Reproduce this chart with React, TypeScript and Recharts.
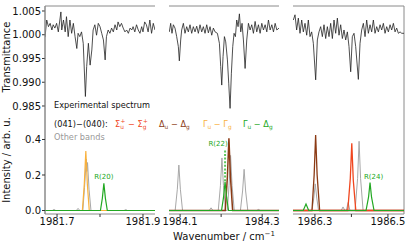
import { LineChart, Line, XAxis, YAxis, ReferenceLine, ReferenceDot } from 'recharts';

const W = 415;
const H = 249;
const PLOT_TOP = 6;
const PLOT_BOTTOM = 214;
const FONT = 'DejaVu Sans';
const SPINE = '#8a8a8a';

const C_OTHER = '#a8a8a8';
const C_SIGMA = '#f0461e';
const C_DELTA = '#8b3a14';
const C_GAMMA = '#f9b13c';
const C_GD = '#22a822';
const C_EXP = '#222222';

// axis ranges and ticks
const transDomain = [0.96226, 1.00605];
const transTicks = [0.985, 0.99, 0.995, 1.0, 1.005];
const intDomain = [-0.0197, 1.152];
const intTicks = [0, 0.2, 0.4];

const range1 = [1981.672, 1981.928];
const range2 = [1984.073, 1984.341];
const range3 = [1986.24, 1986.544];
const ticks1 = [1981.7, 1981.8, 1981.9];
const ticks2 = [1984.1, 1984.2, 1984.3];
const ticks3 = [1986.3, 1986.4, 1986.5];
const tickLabels1 = ['1981.7', '', '1981.9'];
const tickLabels2 = ['1984.1', '', '1984.3'];
const tickLabels3 = ['1986.3', '', '1986.5'];

// experimental transmittance
const exp1: [number, number][] = [
  [1981.672, 0.9995], [1981.676, 1.0031], [1981.68, 1.0017], [1981.684, 1.0024],
  [1981.688, 1.001], [1981.691, 1.0021], [1981.695, 1.0014], [1981.699, 1.0024],
  [1981.703, 1.0006], [1981.709, 1.0048], [1981.711, 1.001], [1981.715, 1.0031],
  [1981.719, 1.0006], [1981.722, 1.0038], [1981.726, 0.9996], [1981.73, 1.0031],
  [1981.734, 1.0003], [1981.738, 1.0024], [1981.742, 0.9996], [1981.746, 0.9971],
  [1981.749, 1.0003], [1981.753, 0.9996], [1981.757, 1.0006], [1981.761, 0.9982],
  [1981.766, 0.987], [1981.769, 0.9933], [1981.773, 0.9982], [1981.777, 0.9936],
  [1981.781, 0.9968], [1981.784, 1.001], [1981.788, 1.0021], [1981.792, 0.9999],
  [1981.796, 1.0024], [1981.8, 1.0017], [1981.804, 1.0003], [1981.808, 0.9989],
  [1981.812, 0.9947], [1981.815, 0.9996], [1981.819, 1.001], [1981.823, 1.0003],
  [1981.827, 1.0014], [1981.831, 1.0006], [1981.835, 1.0021], [1981.839, 1.001],
  [1981.842, 1.0027], [1981.846, 1.0017], [1981.85, 1.0024], [1981.854, 1.0014],
  [1981.858, 1.0006], [1981.862, 1.001], [1981.866, 1.0003], [1981.87, 1.0014],
  [1981.874, 1.001], [1981.877, 1.0017], [1981.881, 1.0006], [1981.885, 1.0021],
  [1981.889, 1.001], [1981.893, 1.0003], [1981.897, 1.0017], [1981.9, 1.0006],
  [1981.904, 1.0027], [1981.908, 1.0021], [1981.912, 1.0006], [1981.916, 1.0031],
  [1981.92, 1.0003], [1981.924, 1.0024], [1981.928, 1.001],
];

const exp2: [number, number][] = [
  [1984.0738, 1.0006], [1984.0771, 1.0024], [1984.0803, 1.0003], [1984.0836, 1.0021],
  [1984.0876, 1.0014], [1984.0917, 0.9996], [1984.0958, 0.9975], [1984.0982, 0.9945],
  [1984.1015, 0.9989], [1984.1039, 1.001], [1984.108, 1.0024], [1984.112, 1.0003],
  [1984.1161, 1.0017], [1984.1201, 1.0006], [1984.1242, 1.0021], [1984.1283, 1.0003],
  [1984.1323, 1.0017], [1984.1364, 1.0006], [1984.1405, 1.0018], [1984.1445, 1.0003],
  [1984.1486, 1.0021], [1984.1527, 1.0006], [1984.1567, 1.0017], [1984.1608, 1.0003],
  [1984.1649, 1.0021], [1984.1689, 1.0004], [1984.173, 1.0017], [1984.1771, 0.9999],
  [1984.1811, 1.0014], [1984.1852, 1.0006], [1984.1909, 1.0003], [1984.1958, 0.9982],
  [1984.199, 0.9933], [1984.2015, 0.9894], [1984.2047, 0.9954], [1984.208, 0.9996],
  [1984.2112, 0.9985], [1984.2153, 0.9947], [1984.2185, 0.9898], [1984.2218, 0.9845],
  [1984.225, 0.9919], [1984.2283, 0.9975], [1984.2315, 1.0003], [1984.2348, 0.9996],
  [1984.238, 1.0031], [1984.2413, 1.0017], [1984.2445, 1.0044], [1984.2478, 1.0006],
  [1984.251, 1.0024], [1984.2543, 0.9989], [1984.2584, 0.9929], [1984.2624, 0.9989],
  [1984.2665, 1.0024], [1984.2706, 1.001], [1984.2746, 1.0021], [1984.2787, 1.0003],
  [1984.2828, 1.0028], [1984.2868, 1.0006], [1984.2909, 1.0021], [1984.295, 1.0003],
  [1984.2991, 1.0024], [1984.3031, 1.001], [1984.3072, 1.0021], [1984.3113, 1.0006],
  [1984.3153, 1.0031], [1984.3194, 1.001], [1984.3235, 1.0021], [1984.3275, 1.0006],
  [1984.3316, 1.0024], [1984.3357, 1.001], [1984.341, 1.0014],
];

const exp3: [number, number][] = [
  [1986.2409, 1.0031], [1986.2455, 1.0042], [1986.25, 1.001], [1986.2546, 1.0035],
  [1986.2592, 1.0003], [1986.2638, 1.0031], [1986.2683, 1.0006], [1986.2729, 1.0024],
  [1986.2775, 0.9999], [1986.282, 1.0031], [1986.2866, 0.9996], [1986.2911, 1.0006],
  [1986.2957, 0.9982], [1986.3021, 0.9905], [1986.3067, 0.9989], [1986.3112, 1.0006],
  [1986.3158, 1.0017], [1986.3204, 0.9996], [1986.3249, 1.0021], [1986.3295, 0.9992],
  [1986.3341, 1.0017], [1986.3386, 0.9996], [1986.3432, 1.0024], [1986.3478, 0.9992],
  [1986.3523, 1.0031], [1986.3569, 1.0003], [1986.3615, 1.0035], [1986.366, 0.9999],
  [1986.3706, 1.0021], [1986.3752, 0.9992], [1986.3797, 1.001], [1986.3843, 0.9989],
  [1986.3889, 1.0006], [1986.3934, 0.9975], [1986.398, 0.9922], [1986.4025, 0.9996],
  [1986.4071, 1.0003], [1986.4117, 0.9975], [1986.419, 0.9906], [1986.4236, 0.9982],
  [1986.4281, 1.001], [1986.4327, 1.0024], [1986.4373, 0.9996], [1986.4418, 1.0031],
  [1986.4464, 1.0003], [1986.451, 1.0021], [1986.4555, 1.0006], [1986.4601, 1.0031],
  [1986.4647, 1.0003], [1986.4692, 1.0017], [1986.4738, 1.0006], [1986.4784, 1.0021],
  [1986.4829, 1.001], [1986.4875, 1.0024], [1986.4921, 1.0003], [1986.4966, 1.0017],
  [1986.5012, 1.0006], [1986.5058, 1.0021], [1986.5103, 1.001], [1986.5149, 1.0024],
  [1986.5195, 1.0006], [1986.524, 1.0014], [1986.5286, 1.0003], [1986.5332, 1.0006],
  [1986.5378, 1.0003], [1986.544, 1.0003],
];

// simulated band intensities
const other1: [number, number][] = [
  [1981.672, 0], [1981.689, 0], [1981.693, 0.006], [1981.697, 0],
  [1981.745, 0], [1981.749, 0.012], [1981.753, 0],
  [1981.76, 0], [1981.764, 0.13], [1981.768, 0.29], [1981.7695, 0.22], [1981.771, 0.27],
  [1981.7745, 0.12], [1981.779, 0],
  [1981.856, 0], [1981.86, 0.005], [1981.864, 0], [1981.928, 0],
];
const gammaGamma1: [number, number][] = [
  [1981.672, 0], [1981.759, 0], [1981.7635, 0.15], [1981.767, 0.335],
  [1981.7705, 0.15], [1981.775, 0], [1981.928, 0],
];
const gammaDelta1: [number, number][] = [
  [1981.672, 0], [1981.801, 0], [1981.8055, 0.07], [1981.809, 0.153],
  [1981.8125, 0.07], [1981.817, 0], [1981.928, 0],
];

const other2: [number, number][] = [
  [1984.073, 0], [1984.088, 0], [1984.0933, 0.12], [1984.097, 0.256], [1984.1007, 0.12], [1984.106, 0],
  [1984.171, 0], [1984.1755, 0.015], [1984.18, 0],
  [1984.193, 0], [1984.1983, 0.14], [1984.202, 0.296], [1984.2057, 0.14], [1984.211, 0],
  [1984.215, 0], [1984.2193, 0.14], [1984.223, 0.31], [1984.2267, 0.14], [1984.232, 0],
  [1984.247, 0], [1984.2523, 0.11], [1984.256, 0.232], [1984.2597, 0.11], [1984.265, 0],
  [1984.287, 0], [1984.291, 0.006], [1984.295, 0], [1984.341, 0],
];
const deltaDelta2: [number, number][] = [
  [1984.073, 0], [1984.21, 0], [1984.2153, 0.19], [1984.219, 0.407],
  [1984.2227, 0.19], [1984.228, 0], [1984.341, 0],
];
const gammaDelta2: [number, number][] = [
  [1984.073, 0], [1984.201, 0], [1984.2059, 0.075], [1984.2096, 0.162],
  [1984.2133, 0.075], [1984.218, 0], [1984.341, 0],
];
const marker2: [number, number][] = [[1984.2096, 0.165], [1984.2096, 0.34]];

const other3: [number, number][] = [
  [1986.24, 0], [1986.292, 0], [1986.2969, 0.07], [1986.301, 0.15], [1986.3051, 0.07], [1986.31, 0],
  [1986.372, 0], [1986.377, 0.02], [1986.382, 0],
  [1986.386, 0], [1986.391, 0.045], [1986.396, 0],
  [1986.41, 0], [1986.4169, 0.18], [1986.421, 0.39], [1986.4251, 0.18], [1986.432, 0],
  [1986.544, 0],
];
const deltaDelta3: [number, number][] = [
  [1986.24, 0], [1986.292, 0], [1986.2979, 0.2], [1986.302, 0.425],
  [1986.3061, 0.2], [1986.313, 0], [1986.544, 0],
];
const sigmaSigma3: [number, number][] = [
  [1986.24, 0], [1986.39, 0], [1986.3969, 0.18], [1986.401, 0.379],
  [1986.4051, 0.17], [1986.412, 0], [1986.544, 0],
];
const gammaDelta3: [number, number][] = [
  [1986.24, 0], [1986.268, 0], [1986.2756, 0.037], [1986.283, 0],
  [1986.44, 0], [1986.4469, 0.075], [1986.451, 0.157], [1986.4551, 0.075], [1986.462, 0],
  [1986.544, 0],
];

// line assignment labels: [wavenumber, intensity, text]
const labels1: [number, number, string][] = [[1981.809, 0.194, 'R(20)']];
const labels2: [number, number, string][] = [[1984.1925, 0.38, 'R(22)']];
const labels3: [number, number, string][] = [[1986.4605, 0.194, 'R(24)']];

type Series = { pts: [number, number][]; color: string; width?: number; dash?: string };

const panels = [
  {
    left: 45, right: 155, domain: range1, ticks: ticks1, tickLabels: tickLabels1, exp: exp1,
    series: [
      { pts: other1, color: C_OTHER },
      { pts: gammaGamma1, color: C_GAMMA, width: 1.2 },
      { pts: gammaDelta1, color: C_GD, width: 1.2 },
    ] as Series[],
    labels: labels1,
  },
  {
    left: 169, right: 279, domain: range2, ticks: ticks2, tickLabels: tickLabels2, exp: exp2,
    series: [
      { pts: other2, color: C_OTHER },
      { pts: deltaDelta2, color: C_DELTA, width: 1.5 },
      { pts: gammaDelta2, color: C_GD, width: 1.2 },
      { pts: marker2, color: '#5cc85c', width: 2, dash: '2 1.6' },
    ] as Series[],
    labels: labels2,
  },
  {
    left: 293, right: 404, domain: range3, ticks: ticks3, tickLabels: tickLabels3, exp: exp3,
    series: [
      { pts: other3, color: C_OTHER },
      { pts: deltaDelta3, color: C_DELTA, width: 1.3 },
      { pts: sigmaSigma3, color: C_SIGMA, width: 1.3 },
      { pts: gammaDelta3, color: C_GD, width: 1.2 },
    ] as Series[],
    labels: labels3,
  },
];

const toPts = (a: [number, number][]) => a.map(([x, y]) => ({ x, y }));

const tickStyle = { fontSize: 10, fill: '#111', fontFamily: FONT };
const layer: React.CSSProperties = { position: 'absolute', left: 0, top: 0 };

function Panel({ p, first, last }: { p: (typeof panels)[number]; first: boolean; last: boolean }) {
  const yw = first ? 35 : 0;
  return (
    <>
      <div style={layer}>
        <LineChart
          width={W}
          height={H}
          margin={{ top: PLOT_TOP, right: W - p.right, bottom: H - PLOT_BOTTOM, left: p.left - yw }}
        >
          <XAxis type="number" dataKey="x" domain={p.domain} allowDataOverflow hide />
          <YAxis
            type="number"
            domain={transDomain}
            allowDataOverflow
            hide={!first}
            width={35}
            ticks={transTicks}
            interval={0}
            tickFormatter={(v: number) => v.toFixed(3)}
            tick={tickStyle}
            tickSize={3}
            tickMargin={1}
            tickLine={{ stroke: '#333' }}
            axisLine={{ stroke: SPINE }}
          />
          <ReferenceLine y={transDomain[1]} stroke={SPINE} />
          {last && <ReferenceLine x={p.domain[1]} stroke={SPINE} />}
          <Line
            data={toPts(p.exp)}
            dataKey="y"
            stroke={C_EXP}
            strokeWidth={0.8}
            dot={false}
            isAnimationActive={false}
          />
        </LineChart>
      </div>
      <div style={layer}>
        <LineChart
          width={W}
          height={H}
          margin={{ top: PLOT_TOP, right: W - p.right, bottom: H - PLOT_BOTTOM - 20, left: p.left - yw }}
        >
          <XAxis
            type="number"
            dataKey="x"
            domain={p.domain}
            allowDataOverflow
            height={20}
            ticks={p.ticks}
            interval={0}
            tickFormatter={(_v: number, i: number) => p.tickLabels[i]}
            tick={tickStyle}
            tickSize={3}
            tickMargin={1}
            tickLine={{ stroke: '#333' }}
            axisLine={{ stroke: SPINE }}
          />
          <YAxis
            type="number"
            domain={intDomain}
            allowDataOverflow
            hide={!first}
            width={35}
            ticks={intTicks}
            interval={0}
            tickFormatter={(v: number) => v.toFixed(1)}
            tick={tickStyle}
            tickSize={3}
            tickMargin={1}
            tickLine={{ stroke: '#333' }}
            axisLine={{ stroke: SPINE }}
          />
          {p.series.map((s, i) => (
            <Line
              key={i}
              data={toPts(s.pts)}
              dataKey="y"
              stroke={s.color}
              strokeWidth={s.width ?? 1}
              strokeDasharray={s.dash}
              dot={false}
              isAnimationActive={false}
            />
          ))}
          {p.labels.map(([x, y, t]) => (
            <ReferenceDot
              key={t}
              x={x}
              y={y}
              r={1}
              fill="none"
              stroke="none"
              label={{ value: t, position: 'center', fill: C_GD, fontSize: 7, fontFamily: FONT }}
            />
          ))}
        </LineChart>
      </div>
    </>
  );
}

function Sub({ base, sub, sup }: { base: string; sub: string; sup?: string }) {
  return (
    <>
      <tspan>{base}</tspan>
      <tspan fontSize={5.8} dy={2}>{sub}</tspan>
      {sup ? (
        <>
          <tspan fontSize={5.8} dx={-3.3} dy={-5.6}>{sup}</tspan>
          <tspan dy={3.6}> </tspan>
        </>
      ) : (
        <tspan dy={-2}> </tspan>
      )}
    </>
  );
}

export default function App() {
  return (
    <div style={{ position: 'absolute', left: 0, top: 0, width: W, height: H, background: '#fff' }}>
      {panels.map((p, i) => (
        <Panel key={i} p={p} first={i === 0} last={i === panels.length - 1} />
      ))}
      <svg width={W} height={H} style={{ ...layer, pointerEvents: 'none' }} fontFamily={FONT}>
        <text x={54} y={108} fontSize={8.2} fill="#111">Experimental spectrum</text>
        <text x={54} y={127} fontSize={8.2} fill="#111">(041)−(040):</text>
        <text x={115} y={127} fontSize={8.2} fill={C_SIGMA}>
          <Sub base="Σ" sub="u" sup="+" />
          <tspan>− </tspan>
          <Sub base="Σ" sub="g" sup="+" />
        </text>
        <text x={159} y={127} fontSize={8.2} fill={C_DELTA}>
          <Sub base="Δ" sub="u" />
          <tspan>− </tspan>
          <Sub base="Δ" sub="g" />
        </text>
        <text x={203} y={127} fontSize={8.2} fill={C_GAMMA}>
          <Sub base="Γ" sub="u" />
          <tspan>− </tspan>
          <Sub base="Γ" sub="g" />
        </text>
        <text x={243} y={127} fontSize={8.2} fill={C_GD}>
          <Sub base="Γ" sub="u" />
          <tspan>− </tspan>
          <Sub base="Δ" sub="g" />
        </text>
        <text x={54} y={140} fontSize={8.2} fill="#999">Other bands</text>
        <text x={224} y={240} fontSize={10} fill="#111" textAnchor="middle">
          Wavenumber / cm<tspan fontSize={7} dy={-4}>−1</tspan>
        </text>
        <text x={10} y={57} fontSize={10} fill="#111" textAnchor="middle" transform="rotate(-90 10 57)">
          Transmittance
        </text>
        <text x={10} y={160} fontSize={10} fill="#111" textAnchor="middle" transform="rotate(-90 10 160)">
          Intensity / arb. u.
        </text>
      </svg>
    </div>
  );
}
